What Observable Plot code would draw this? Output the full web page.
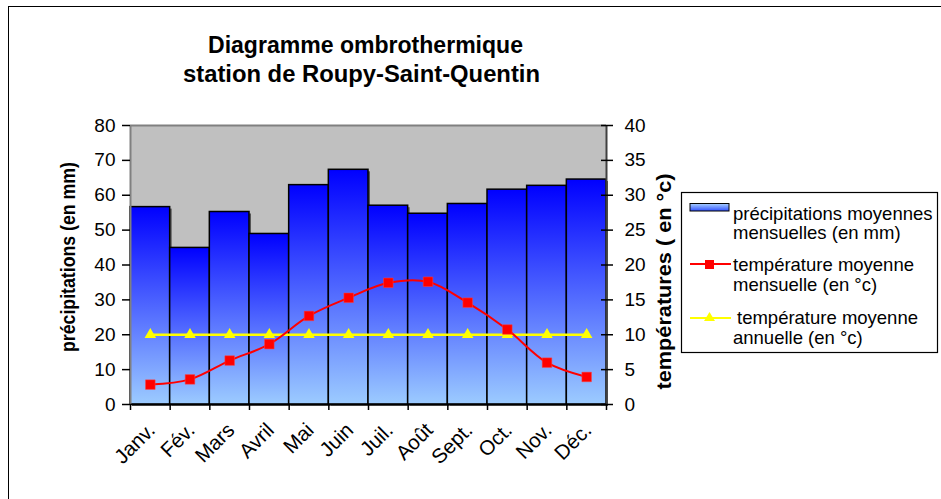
<!DOCTYPE html>
<html>
<head>
<meta charset="utf-8">
<script src="https://cdn.jsdelivr.net/npm/d3@7"></script>
<script src="https://cdn.jsdelivr.net/npm/@observablehq/plot@0.6"></script>
<style>
  html, body { margin: 0; padding: 0; background: #fff; overflow: hidden; }
  #wrap { position: relative; width: 941px; height: 499px; overflow: hidden; font-family: "Liberation Sans", Arial, sans-serif; }
  #frame { position: absolute; left: 8px; top: 6px; width: 1000px; height: 600px; border: 1.5px solid #000; box-sizing: border-box; }
  #overlay { position: absolute; left: 0; top: 0; pointer-events: none; }
  #chart { position: absolute; left: 0; top: 0; }
</style>
</head>
<body>
<div id="wrap">
  <div id="frame"></div>
  <div id="chart"></div>
</div>
<script>
const months = ["Janv.", "Fév.", "Mars", "Avril", "Mai", "Juin", "Juil.", "Août", "Sept.", "Oct.", "Nov.", "Déc."];
const precip = [56.6, 44.9, 55.2, 48.9, 62.9, 67.3, 57.0, 54.7, 57.5, 61.6, 62.7, 64.5];
const tempMonthly = [2.85, 3.6, 6.3, 8.65, 12.7, 15.3, 17.45, 17.6, 14.6, 10.75, 6.0, 3.95];
const tempAnnual = [10, 10, 10, 10, 10, 10, 10, 10, 10, 10, 10, 10];
const precipTicks = [0, 10, 20, 30, 40, 50, 60, 70, 80];
const tempTicks = [0, 5, 10, 15, 20, 25, 30, 35, 40];

// temperature axis shares the vertical scale: 1 °C = 2 mm
const t2y = t => t * 2;

const W = 941, H = 499;
const font = "Liberation Sans, Arial, sans-serif";

const plot = Plot.plot({
  width: W,
  height: H,
  marginLeft: 130,
  marginRight: W - 606,
  marginTop: 125,
  marginBottom: H - 404,
  style: { fontFamily: font, background: "transparent", overflow: "visible" },
  x: { domain: [0, 12], axis: null },
  y: { domain: [0, 80], axis: null, nice: false },
  marks: [
    Plot.frame({ fill: "#c0c0c0", stroke: "none" }),
    // bar shadows
    Plot.rectY(precip, { x1: (d, i) => i, x2: (d, i) => i + 1, y: d => d, dx: 2, dy: 2, fill: "#555" }),
    // bars
    Plot.rectY(precip, { x1: (d, i) => i, x2: (d, i) => i + 1, y: d => d, fill: "url(#barGrad)", stroke: "#000", strokeWidth: 1.5 }),
    // plot area borders
    Plot.ruleY([80], { stroke: "#808080", strokeWidth: 2 }),
    Plot.ruleX([0], { stroke: "#808080", strokeWidth: 2 }),
    Plot.ruleX([12], { stroke: "#404040", strokeWidth: 2 }),
    Plot.ruleY([0], { stroke: "#000", strokeWidth: 1.5 }),
    // annual mean temperature
    Plot.line(tempAnnual, { x: (d, i) => i + 0.5, y: d => t2y(d), stroke: "#ffff00", strokeWidth: 2.5 }),
    Plot.dot(tempAnnual, { x: (d, i) => i + 0.5, y: d => t2y(d), symbol: "triangle", r: 4.3, fill: "#ffff00", stroke: "none" }),
    // monthly temperature
    Plot.line(tempMonthly, { x: (d, i) => i + 0.5, y: d => t2y(d), stroke: "#ff0000", strokeWidth: 2, curve: "catmull-rom" }),
    Plot.dot(tempMonthly, { x: (d, i) => i + 0.5, y: d => t2y(d), symbol: "square", r: 5.4, fill: "#ff0000", stroke: "#ff4040", strokeWidth: 0.5 }),
    // axes
    Plot.axisY({ ticks: precipTicks, anchor: "left", tickSize: 8, tickPadding: 7, fontSize: 19, stroke: "#000", strokeWidth: 1.5, color: "#000" }),
    Plot.axisY({ ticks: precipTicks, anchor: "right", tickSize: 12, dx: -6, tickPadding: 12, fontSize: 19, tickFormat: d => String(d / 2), stroke: "#000", strokeWidth: 1.5, color: "#000" }),
    Plot.axisX({ ticks: d3.range(0, 13), tickSize: 6, tickFormat: () => "", stroke: "#000", strokeWidth: 1.5 }),
    Plot.text(months, { x: (d, i) => i + 0.5, frameAnchor: "bottom", rotate: -45, textAnchor: "end", lineAnchor: "bottom", dx: 6, dy: 27, fontSize: 20.5, fill: "#000" })
  ]
});

const svg = d3.select(plot);
const defs = svg.insert("defs", ":first-child");
const lg = defs.append("linearGradient").attr("id", "barGrad").attr("x1", 0).attr("y1", 0).attr("x2", 0).attr("y2", 1);
lg.append("stop").attr("offset", "0%").attr("stop-color", "#0000ff");
lg.append("stop").attr("offset", "100%").attr("stop-color", "#9ccbff");

document.getElementById("chart").appendChild(plot);

// overlay: titles and legend
const ov = d3.select("#wrap").append("svg").attr("id", "overlay").attr("width", W).attr("height", H)
  .style("font-family", font);
const ldefs = ov.append("defs");

ov.append("text").attr("x", 365.5).attr("y", 53).attr("text-anchor", "middle")
  .attr("font-size", 23).attr("font-weight", "bold")
  .attr("textLength", 315).attr("lengthAdjust", "spacingAndGlyphs").text("Diagramme ombrothermique");
ov.append("text").attr("x", 361.5).attr("y", 82).attr("text-anchor", "middle")
  .attr("font-size", 23).attr("font-weight", "bold")
  .attr("textLength", 357).attr("lengthAdjust", "spacingAndGlyphs").text("station de Roupy-Saint-Quentin");

ov.append("text").attr("transform", "translate(75,257) rotate(-90)").attr("text-anchor", "middle")
  .attr("font-size", 20).attr("font-weight", "bold")
  .attr("textLength", 190).attr("lengthAdjust", "spacingAndGlyphs").text("précipitations (en mm)");
ov.append("text").attr("transform", "translate(671,281.5) rotate(-90)").attr("text-anchor", "middle")
  .attr("font-size", 19.5).attr("font-weight", "bold")
  .attr("textLength", 216).attr("lengthAdjust", "spacingAndGlyphs").text("températures ( en °c)");

// legend
const lgd = ov.append("g");
lgd.append("rect").attr("x", 681.5).attr("y", 192.5).attr("width", 256).attr("height", 160)
  .attr("fill", "#fff").attr("stroke", "#000").attr("stroke-width", 1.2);
const lg2 = ldefs.append("linearGradient").attr("id", "legGrad2").attr("x1", 0).attr("y1", 0).attr("x2", 0).attr("y2", 1);
lg2.append("stop").attr("offset", "0%").attr("stop-color", "#a8d0ff");
lg2.append("stop").attr("offset", "100%").attr("stop-color", "#3050ff");
lgd.append("rect").attr("x", 690).attr("y", 203.5).attr("width", 39).attr("height", 7.5)
  .attr("fill", "url(#legGrad2)").attr("stroke", "#000").attr("stroke-width", 1);
lgd.append("line").attr("x1", 690).attr("x2", 731).attr("y1", 264).attr("y2", 264).attr("stroke", "#ff0000").attr("stroke-width", 2);
lgd.append("rect").attr("x", 705).attr("y", 260).attr("width", 9).attr("height", 9).attr("fill", "#ff0000");
lgd.append("line").attr("x1", 690).attr("x2", 731).attr("y1", 318).attr("y2", 318).attr("stroke", "#ffff00").attr("stroke-width", 2);
lgd.append("path").attr("d", "M709.5,312 L715,321 L704,321 Z").attr("fill", "#ffff00");

const legLines = [
  ["précipitations moyennes", 220, 733], ["mensuelles (en mm)", 239, 733],
  ["température moyenne", 271, 733], ["mensuelle (en °c)", 291, 733],
  ["température moyenne", 324, 737], ["annuelle (en °c)", 344, 733]
];
legLines.forEach(([t, y, x]) => {
  ov.append("text").attr("x", x).attr("y", y).attr("font-size", 18.5).text(t);
});
</script>
</body>
</html>
